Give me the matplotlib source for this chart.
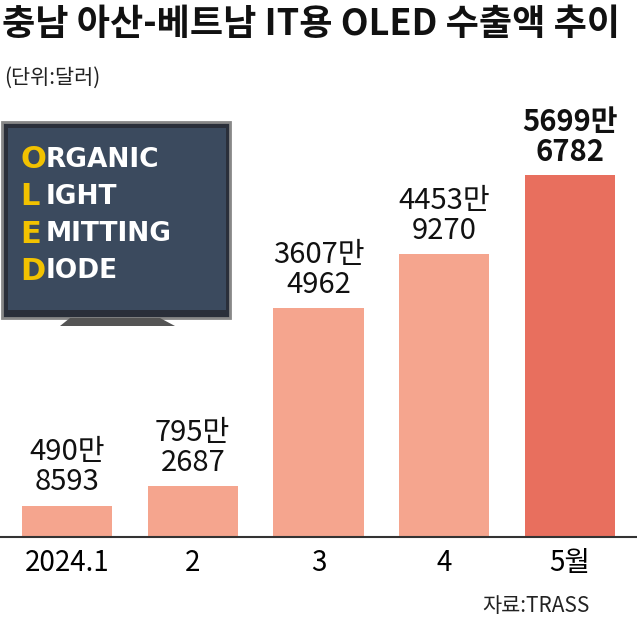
import matplotlib
matplotlib.use("Agg")
import matplotlib.pyplot as plt
from matplotlib.patches import Rectangle, Polygon

plt.rcParams['font.family'] = ['Noto Sans CJK KR', 'DejaVu Sans']

categories = ["2024.1", "2", "3", "4", "5월"]
values = [4908593, 7952687, 36074962, 44539270, 56996782]
labels = ["490만\n8593", "795만\n2687", "3607만\n4962", "4453만\n9270", "5699만\n6782"]
colors = ["#F5A58E"] * 4 + ["#E86F5E"]

W, H = 637, 625
fig = plt.figure(figsize=(W/100, H/100), dpi=100)

def fx(x): return x / W
def fy(y): return 1 - y / H

# TV decoration
fig.patches.append(Rectangle((fx(2), fy(318)), fx(230)-fx(2), fy(122)-fy(318),
                             transform=fig.transFigure, facecolor="#2a2f3a", edgecolor="#888", lw=2))
fig.patches.append(Rectangle((fx(8), fy(310)), fx(226)-fx(8), fy(128)-fy(310),
                             transform=fig.transFigure, facecolor="#3b4a5e", edgecolor="none"))
fig.patches.append(Polygon([(fx(70), fy(318)), (fx(160), fy(318)), (fx(175), fy(326)), (fx(60), fy(326))],
                           closed=True, transform=fig.transFigure, facecolor="#555", edgecolor="none"))
for i, (a, b) in enumerate([("O", "RGANIC"), ("L", "IGHT"), ("E", "MITTING"), ("D", "IODE")]):
    y = 160 + i * 37
    fig.text(fx(20), fy(y), a, color="#F2C200", fontsize=22, fontweight="bold", va="center", family="DejaVu Sans")
    fig.text(fx(46), fy(y), b, color="white", fontsize=19, fontweight="bold", va="center", family="DejaVu Sans")

ax = fig.add_axes([0, fy(537), 1, fy(175) - fy(537)])
x = list(range(len(categories)))
ax.bar(x, values, width=0.716, color=colors, zorder=2)
ax.set_xlim(-67/125.75, (W-67)/125.75)
ax.set_ylim(0, max(values))
for s in ["top", "right", "left"]:
    ax.spines[s].set_visible(False)
ax.spines["bottom"].set_color("#333")
ax.spines["bottom"].set_linewidth(1.5)
ax.set_yticks([])
ax.set_xticks(x)
ax.set_xticklabels(categories, fontsize=20)
ax.tick_params(axis="x", length=0, pad=8)
for i, (v, lab) in enumerate(zip(values, labels)):
    ax.annotate(lab, (i, v), xytext=(0, 6), textcoords="offset points", ha="center", va="bottom",
                fontsize=21, linespacing=1.0, clip_on=False,
                fontweight="bold" if i == 4 else "normal", color="#111")

fig.text(fx(2), fy(24), "충남 아산-베트남 IT용 OLED 수출액 추이", fontsize=26, fontweight="bold", va="center", color="#111")
fig.text(fx(4), fy(78), "(단위:달러)", fontsize=15, va="center", color="#222")
fig.text(fx(590), fy(606), "자료:TRASS", fontsize=15, va="center", ha="right", color="#222")

fig.savefig("out.png", dpi=100)
